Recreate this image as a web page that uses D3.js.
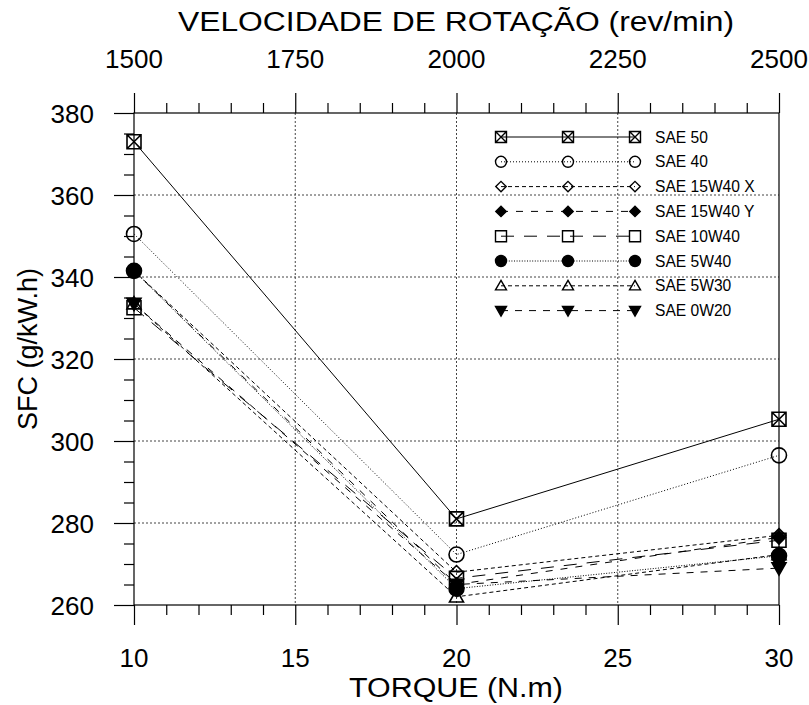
<!DOCTYPE html>
<html>
<head>
<meta charset="utf-8">
<script src="https://cdn.jsdelivr.net/npm/d3@7"></script>
<style>
  html, body { margin: 0; padding: 0; background: #fff; }
  svg { display: block; font-family: "Liberation Sans", Arial, sans-serif; }
</style>
</head>
<body>
<svg id="chart" width="809" height="705"></svg>
<script>
// ---------- DATA ----------
const torque = [10, 20, 30];
const seriesNames = ["SAE 50", "SAE 40", "SAE 15W40 X", "SAE 15W40 Y", "SAE 10W40", "SAE 5W40", "SAE 5W30", "SAE 0W20"];
const sae50     = [373.0, 281.0, 305.3];
const sae40     = [350.5, 272.3, 296.5];
const sae15w40x = [341.5, 268.0, 277.0];
const sae15w40y = [341.5, 265.0, 276.5];
const sae10w40  = [332.5, 266.5, 275.8];
const sae5w40   = [341.5, 264.0, 272.0];
const sae5w30   = [333.5, 262.0, 272.3];
const sae0w20   = [333.5, 265.0, 269.0];
const torqueTicks = [10, 15, 20, 25, 30];
const rpmTicks = [1500, 1750, 2000, 2250, 2500];
const sfcTicks = [260, 280, 300, 320, 340, 360, 380];

// ---------- STYLE ----------
const seriesValues = [sae50, sae40, sae15w40x, sae15w40y, sae10w40, sae5w40, sae5w30, sae0w20];
const markerTypes = ["xsquare", "circle", "diamond", "diamondF", "square", "circleF", "triangle", "triangleDownF"];
const dashes = [null, "1,2", "4,3", "7,8", "13,10", "1,1.6", "4,3", "7,7"];

const svg = d3.select("#chart");
const L = 134, R = 779, T = 113, B = 605;
const x = d3.scaleLinear().domain([10, 30]).range([L, R]);
const xTop = d3.scaleLinear().domain([1500, 2500]).range([L, R]);
const y = d3.scaleLinear().domain([260, 380]).range([B, T]);

// grid
const grid = svg.append("g").attr("stroke", "#444").attr("stroke-width", 1).attr("stroke-dasharray", "2,2");
torqueTicks.slice(1, -1).forEach(v => {
  grid.append("line").attr("x1", x(v)).attr("x2", x(v)).attr("y1", T).attr("y2", B);
});
sfcTicks.slice(1, -1).forEach(v => {
  grid.append("line").attr("x1", L).attr("x2", R).attr("y1", y(v)).attr("y2", y(v));
});

// axes
function styleAxis(g) {
  g.select(".domain").remove();
  g.selectAll("line").attr("stroke", "#000").attr("stroke-width", 1.2);
  g.selectAll("text").remove();
}
const range = (a, b, s) => d3.range(a, b + s / 2, s);

svg.append("g").attr("transform", `translate(0,${B})`)
  .call(d3.axisBottom(x).tickValues(torqueTicks).tickSize(20).tickFormat("")).call(styleAxis);
svg.append("g").attr("transform", `translate(0,${B})`)
  .call(d3.axisBottom(x).tickValues(range(10, 30, 1).filter(v => v % 5)).tickSize(10).tickFormat("")).call(styleAxis);
svg.append("g").attr("transform", `translate(0,${T})`)
  .call(d3.axisTop(xTop).tickValues(rpmTicks).tickSize(20).tickFormat("")).call(styleAxis);
svg.append("g").attr("transform", `translate(0,${T})`)
  .call(d3.axisTop(xTop).tickValues(range(1500, 2500, 50).filter(v => v % 250)).tickSize(10).tickFormat("")).call(styleAxis);
svg.append("g").attr("transform", `translate(${L},0)`)
  .call(d3.axisLeft(y).tickValues(sfcTicks).tickSize(20).tickFormat("")).call(styleAxis);
svg.append("g").attr("transform", `translate(${L},0)`)
  .call(d3.axisLeft(y).tickValues(range(260, 380, 5).filter(v => v % 20)).tickSize(10).tickFormat("")).call(styleAxis);

// frame
svg.append("rect").attr("x", L).attr("y", T).attr("width", R - L).attr("height", B - T)
  .attr("fill", "none").attr("stroke", "#000").attr("stroke-width", 1.2);

// tick labels
const fs = 26;
svg.append("g").selectAll("text").data(torqueTicks).join("text")
  .attr("x", d => x(d)).attr("y", 667).attr("text-anchor", "middle")
  .attr("font-size", fs).text(d => d);
svg.append("g").selectAll("text").data(rpmTicks).join("text")
  .attr("x", d => xTop(d)).attr("y", 68).attr("text-anchor", "middle")
  .attr("font-size", fs).text(d => d);
svg.append("g").selectAll("text").data(sfcTicks).join("text")
  .attr("x", 94).attr("y", d => y(d) + 9.5).attr("text-anchor", "end")
  .attr("font-size", fs).text(d => d);

// titles
svg.append("text").attr("x", 456).attr("y", 31).attr("text-anchor", "middle")
  .attr("font-size", 27).attr("textLength", 556).attr("lengthAdjust", "spacingAndGlyphs")
  .text("VELOCIDADE DE ROTAÇÃO (rev/min)");
svg.append("text").attr("x", 456).attr("y", 697).attr("text-anchor", "middle")
  .attr("font-size", 27).attr("textLength", 214).attr("lengthAdjust", "spacingAndGlyphs")
  .text("TORQUE (N.m)");
svg.append("text").attr("transform", "translate(37,349) rotate(-90)").attr("text-anchor", "middle")
  .attr("font-size", 27).text("SFC (g/kW.h)");

// markers
function markerPath(type, s) {
  const h = s / 2, p = d3.path();
  if (type === "xsquare") {
    p.rect(-h, -h, s, s); p.moveTo(-h, -h); p.lineTo(h, h); p.moveTo(h, -h); p.lineTo(-h, h);
  } else if (type === "square") {
    p.rect(-h, -h, s, s);
  } else if (type.startsWith("circle")) {
    p.moveTo(h, 0); p.arc(0, 0, h, 0, 2 * Math.PI);
  } else if (type.startsWith("diamond")) {
    const d = h * 0.95;
    p.moveTo(0, -d); p.lineTo(d, 0); p.lineTo(0, d); p.lineTo(-d, 0); p.closePath();
  } else if (type === "triangle") {
    p.moveTo(0, -h); p.lineTo(h, h * 0.75); p.lineTo(-h, h * 0.75); p.closePath();
  } else if (type === "triangleDownF") {
    p.moveTo(0, h); p.lineTo(h, -h * 0.75); p.lineTo(-h, -h * 0.75); p.closePath();
  }
  return p.toString();
}
const filled = t => t.endsWith("F");

const line = d3.line().x((d, i) => x(torque[i])).y(d => y(d));
const plot = svg.append("g");
seriesValues.forEach((vals, k) => {
  plot.append("path").attr("d", line(vals)).attr("fill", "none").attr("stroke", "#000")
    .attr("stroke-width", 1).attr("stroke-dasharray", dashes[k]);
});
seriesValues.forEach((vals, k) => {
  plot.append("g").selectAll("path").data(vals).join("path")
    .attr("transform", (d, i) => `translate(${x(torque[i])},${y(d)})`)
    .attr("d", markerPath(markerTypes[k], markerTypes[k].startsWith("circle") ? 15 : 14))
    .attr("fill", filled(markerTypes[k]) ? "#000" : "none")
    .attr("stroke", "#000").attr("stroke-width", 1.6);
});

// legend
const legX = [501, 568, 635];
const legY0 = 137, legDy = 24.8;
const leg = svg.append("g");
seriesNames.forEach((name, k) => {
  const yy = legY0 + k * legDy;
  leg.append("line").attr("x1", legX[0]).attr("x2", legX[2]).attr("y1", yy).attr("y2", yy)
    .attr("stroke", "#000").attr("stroke-width", 1).attr("stroke-dasharray", dashes[k]);
  legX.forEach(xx => {
    leg.append("path").attr("transform", `translate(${xx},${yy})`)
      .attr("d", markerPath(markerTypes[k], 11))
      .attr("fill", filled(markerTypes[k]) ? "#000" : "none")
      .attr("stroke", "#000").attr("stroke-width", 1.4);
  });
  leg.append("text").attr("x", 655).attr("y", yy + 5.5).attr("font-size", 15.6).text(name);
});
</script>
</body>
</html>
